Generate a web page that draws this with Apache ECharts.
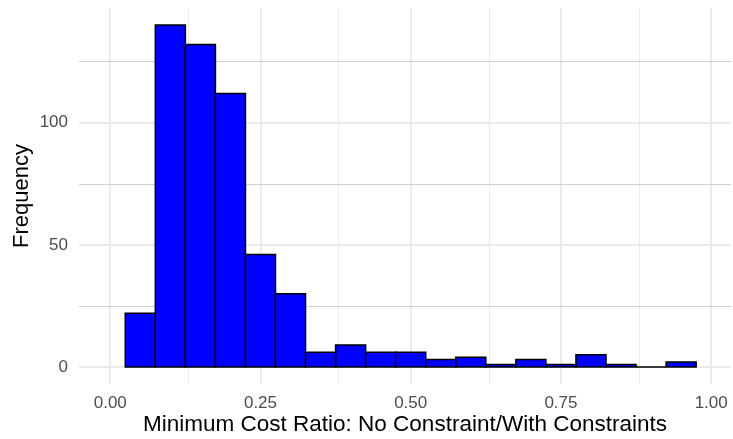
<!DOCTYPE html>
<html>
<head>
<meta charset="utf-8">
<script src="https://cdn.jsdelivr.net/npm/echarts@6/dist/echarts.min.js"></script>
<style>
html,body{margin:0;padding:0;background:#fff;}
#chart{width:733px;height:439px;}
</style>
</head>
<body>
<div id="chart"></div>
<script>
// Histogram bins (lower edges), bin width, and counts
const binLower = [0.025, 0.075, 0.125, 0.175, 0.225, 0.275, 0.325, 0.375, 0.425, 0.475, 0.525, 0.575, 0.625, 0.675, 0.725, 0.775, 0.825, 0.875, 0.925];
const binWidth = 0.05;
const counts = [22, 140, 132, 112, 46, 30, 6, 9, 6, 6, 3, 4, 1, 3, 1, 5, 1, 0, 2];

const xTicks = [0, 0.25, 0.5, 0.75, 1.0];
const xMinor = [0.125, 0.375, 0.625, 0.875];
const yTicks = [0, 50, 100];
const yMinor = [25, 75, 125];

const xTitle = 'Minimum Cost Ratio: No Constraint/With Constraints';
const yTitle = 'Frequency';

const data = binLower.map((lo, i) => [lo, lo + binWidth, counts[i]]);

const gridLines = [];
xMinor.forEach(v => gridLines.push({xAxis: v, lineStyle: {color: '#ebebeb', width: 1, type: 'solid'}}));
xTicks.forEach(v => gridLines.push({xAxis: v, lineStyle: {color: '#ebebeb', width: 2, type: 'solid'}}));
yMinor.forEach(v => gridLines.push({yAxis: v, lineStyle: {color: '#cfcfcf', width: 1, type: 'solid'}}));
yTicks.forEach(v => gridLines.push({yAxis: v, lineStyle: {color: '#ebebeb', width: 2, type: 'solid'}}));

const FONT = 'Liberation Sans, Arial, sans-serif';
const chart = echarts.init(document.getElementById('chart'), null, {renderer: 'canvas'});
chart.setOption({
  animation: false,
  backgroundColor: '#ffffff',
  grid: {left: 79, right: 2, top: 8, bottom: 55, containLabel: false, outerBoundsMode: 'none'},
  xAxis: {
    type: 'value', min: -0.052, max: 1.033,
    axisLine: {show: false}, axisTick: {show: false}, splitLine: {show: false},
    axisLabel: {
      customValues: xTicks, color: '#4d4d4d', fontSize: 17, margin: 11,
      fontFamily: FONT,
      formatter: v => Number(v).toFixed(2)
    },
    name: xTitle, nameLocation: 'middle', nameGap: 29, nameMoveOverlap: false,
    nameTextStyle: {color: '#000', fontSize: 22.5, fontFamily: FONT}
  },
  yAxis: {
    type: 'value', min: -7, max: 147,
    axisLine: {show: false}, axisTick: {show: false}, splitLine: {show: false},
    axisLabel: {
      customValues: yTicks, color: '#4d4d4d', fontSize: 17, margin: 11,
      fontFamily: FONT
    },
    name: yTitle, nameLocation: 'middle', nameGap: 46, nameRotate: 90, nameMoveOverlap: false,
    nameTextStyle: {color: '#000', fontSize: 22, fontFamily: FONT}
  },
  series: [
    {
      type: 'line', data: [], silent: true, z: 1,
      markLine: {silent: true, symbol: ['none', 'none'], label: {show: false}, animation: false, data: gridLines}
    },
    {
      type: 'custom', z: 5, data: data,
      renderItem: function (params, api) {
        const lo = api.value(0), hi = api.value(1), c = api.value(2);
        const p0 = api.coord([lo, c]);
        const p1 = api.coord([hi, 0]);
        return {
          type: 'rect',
          shape: {x: p0[0], y: p0[1], width: p1[0] - p0[0], height: p1[1] - p0[1]},
          style: {fill: '#0000ff', stroke: '#000000', lineWidth: 1.5}
        };
      }
    }
  ]
});
</script>
</body>
</html>
